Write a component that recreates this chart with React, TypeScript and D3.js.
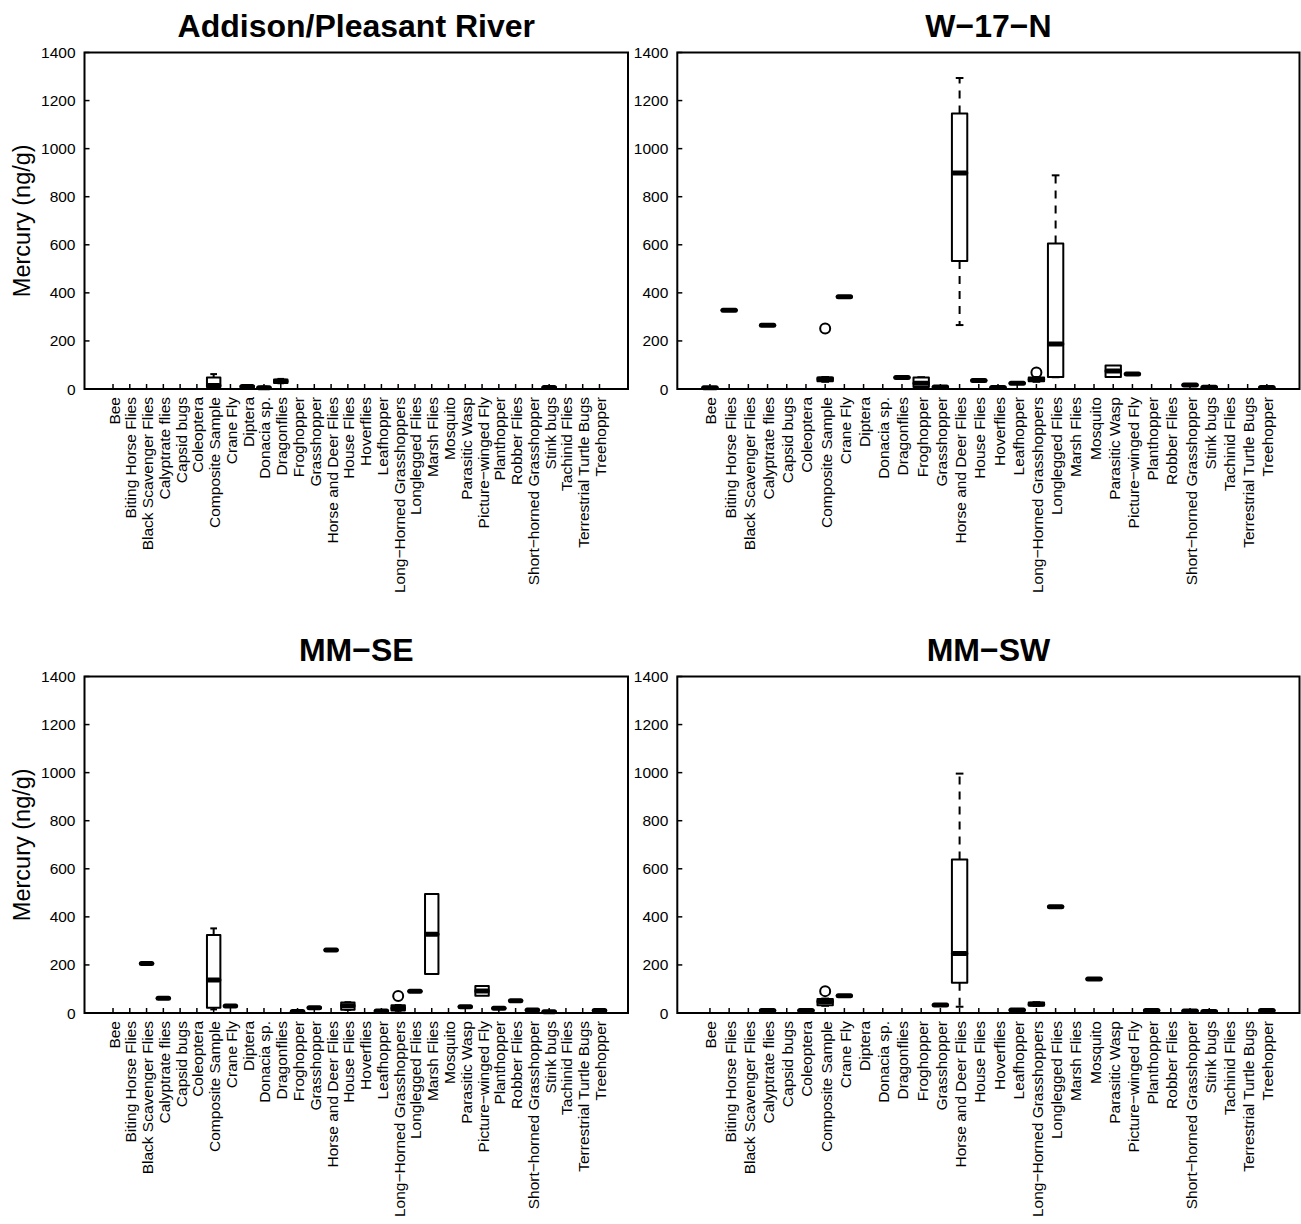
import React from "react";
import { scalePoint, scaleLinear } from "d3";

const categories = [
  "Bee", "Biting Horse Flies", "Black Scavenger Flies", "Calyptrate flies", "Capsid bugs",
  "Coleoptera", "Composite Sample", "Crane Fly", "Diptera", "Donacia sp.", "Dragonflies",
  "Froghopper", "Grasshopper", "Horse and Deer Flies", "House Flies", "Hoverflies",
  "Leafhopper", "Long−Horned Grasshoppers", "Longlegged Flies", "Marsh Flies", "Mosquito",
  "Parasitic Wasp", "Picture−winged Fly", "Planthopper", "Robber Flies",
  "Short−horned Grasshopper", "Stink bugs", "Tachinid Flies", "Terrestrial Turtle Bugs",
  "Treehopper",
];

const yTicks = [0, 200, 400, 600, 800, 1000, 1200, 1400];

type Stat = [string, number, number, number, number, number]; // name, lo, q1, med, q3, hi
type Out = [string, number];

// Addison/Pleasant River
const addisonStats: Stat[] = [
  ["Composite Sample", 5, 8, 15, 48, 62],
  ["Diptera", 6, 7, 10, 13, 14],
  ["Donacia sp.", 3, 4, 5, 6, 10],
  ["Dragonflies", 24, 25, 32, 40, 42],
  ["Stink bugs", 2, 4, 6, 8, 12],
];
const addisonOut: Out[] = [];

// W-17-N
const w17Stats: Stat[] = [
  ["Bee", 4, 4, 5, 6, 6],
  ["Biting Horse Flies", 328, 328, 328, 328, 328],
  ["Calyptrate flies", 265, 265, 265, 265, 265],
  ["Composite Sample", 30, 32, 42, 48, 50],
  ["Crane Fly", 384, 384, 384, 384, 384],
  ["Dragonflies", 48, 48, 48, 48, 48],
  ["Froghopper", 7, 8, 24, 48, 49],
  ["Grasshopper", 7, 7, 8, 9, 9],
  ["Horse and Deer Flies", 266, 533, 899, 1146, 1294],
  ["House Flies", 35, 35, 35, 35, 35],
  ["Hoverflies", 5, 5, 6, 7, 7],
  ["Leafhopper", 23, 23, 24, 25, 25],
  ["Long−Horned Grasshoppers", 30, 32, 40, 48, 50],
  ["Longlegged Flies", 49, 50, 187, 605, 889],
  ["Parasitic Wasp", 50, 50, 75, 98, 98],
  ["Picture−winged Fly", 62, 62, 62, 62, 62],
  ["Short−horned Grasshopper", 16, 16, 17, 18, 18],
  ["Stink bugs", 6, 6, 7, 8, 8],
  ["Treehopper", 5, 5, 6, 7, 7],
];
const w17Out: Out[] = [
  ["Composite Sample", 252],
  ["Long−Horned Grasshoppers", 69],
];

// MM-SE
const mmseStats: Stat[] = [
  ["Black Scavenger Flies", 206, 206, 206, 206, 206],
  ["Calyptrate flies", 61, 61, 61, 61, 61],
  ["Composite Sample", 15, 22, 137, 324, 352],
  ["Crane Fly", 29, 29, 29, 29, 29],
  ["Froghopper", 5, 5, 6, 7, 7],
  ["Grasshopper", 21, 21, 22, 23, 23],
  ["Horse and Deer Flies", 262, 262, 262, 262, 262],
  ["House Flies", 13, 14, 30, 44, 45],
  ["Leafhopper", 7, 7, 8, 9, 9],
  ["Long−Horned Grasshoppers", 9, 10, 20, 32, 33],
  ["Longlegged Flies", 91, 91, 91, 91, 91],
  ["Marsh Flies", 162, 162, 328, 495, 495],
  ["Parasitic Wasp", 26, 26, 26, 26, 26],
  ["Picture−winged Fly", 72, 72, 92, 112, 112],
  ["Planthopper", 20, 20, 20, 20, 20],
  ["Robber Flies", 51, 51, 51, 51, 51],
  ["Short−horned Grasshopper", 11, 11, 12, 13, 13],
  ["Stink bugs", 4, 4, 5, 6, 6],
  ["Treehopper", 9, 9, 10, 11, 11],
];
const mmseOut: Out[] = [["Long−Horned Grasshoppers", 71]];

// MM-SW
const mmswStats: Stat[] = [
  ["Calyptrate flies", 9, 9, 10, 11, 11],
  ["Coleoptera", 9, 9, 10, 11, 11],
  ["Composite Sample", 30, 32, 48, 58, 60],
  ["Crane Fly", 72, 72, 72, 72, 72],
  ["Grasshopper", 33, 33, 33, 33, 33],
  ["Horse and Deer Flies", 26, 126, 248, 639, 996],
  ["Leafhopper", 11, 11, 12, 13, 13],
  ["Long−Horned Grasshoppers", 30, 31, 36, 44, 45],
  ["Longlegged Flies", 442, 442, 442, 442, 442],
  ["Mosquito", 141, 141, 141, 141, 141],
  ["Planthopper", 9, 9, 10, 11, 11],
  ["Short−horned Grasshopper", 7, 7, 8, 9, 9],
  ["Stink bugs", 5, 5, 6, 7, 7],
  ["Treehopper", 9, 9, 10, 11, 11],
];
const mmswOut: Out[] = [["Composite Sample", 91]];

const FONT = "'Liberation Sans', Arial, Helvetica, sans-serif";

type PanelProps = {
  title: string;
  left: number;
  right: number;
  top: number;
  bottom: number;
  stats: Stat[];
  outs: Out[];
  ylab: boolean;
};

function Panel({ title, left, right, top, bottom, stats, outs, ylab }: PanelProps) {
  const x = scalePoint<string>().domain(categories).range([left, right]).padding(1.7);
  const y = scaleLinear().domain([0, 1400]).range([bottom, top]);
  const bw = x.step() * 0.8;
  const mid = (left + right) / 2;

  return (
    <g>
      <text x={mid} y={top - 16} textAnchor="middle" fontWeight="bold" fontSize={32} fontFamily={FONT}>
        {title}
      </text>
      {ylab && (
        <text
          transform={`translate(30,${(top + bottom) / 2}) rotate(-90)`}
          textAnchor="middle"
          fontSize={23.5}
          fontFamily={FONT}
        >
          Mercury (ng/g)
        </text>
      )}
      {/* y axis */}
      {yTicks.map((t) => (
        <g key={t}>
          <line x1={left} x2={left + 5} y1={y(t)} y2={y(t)} stroke="#000" strokeWidth={1.5} />
          <text x={left - 9} y={y(t)} textAnchor="end" dominantBaseline="central" fontSize={15.5} fontFamily={FONT}>
            {t}
          </text>
        </g>
      ))}
      {/* x axis */}
      {categories.map((c) => (
        <g key={c}>
          <line x1={x(c)} x2={x(c)} y1={bottom} y2={bottom - 5} stroke="#000" strokeWidth={1.5} />
          <text
            transform={`translate(${(x(c) ?? 0) + 1},${bottom + 8}) rotate(-90)`}
            textAnchor="end"
            dominantBaseline="central"
            fontSize={15.5}
            fontFamily={FONT}
          >
            {c}
          </text>
        </g>
      ))}
      {/* boxes */}
      {stats.map(([c, lo, q1, med, q3, hi]) => {
        const cx = x(c) ?? 0;
        return (
          <g key={c} stroke="#000" strokeWidth={2} fill="none">
            {hi > q3 && (
              <>
                <line x1={cx} x2={cx} y1={y(q3)} y2={y(hi)} strokeDasharray="8,7" />
                <line x1={cx - bw / 4} x2={cx + bw / 4} y1={y(hi)} y2={y(hi)} />
              </>
            )}
            {lo < q1 && (
              <>
                <line x1={cx} x2={cx} y1={y(q1)} y2={y(lo)} strokeDasharray="8,7" />
                <line x1={cx - bw / 4} x2={cx + bw / 4} y1={y(lo)} y2={y(lo)} />
              </>
            )}
            <rect
              x={cx - bw / 2}
              y={y(q3)}
              width={bw}
              height={Math.max(0.01, y(q1) - y(q3))}
              fill="#fff"
              strokeLinejoin="round"
            />
            <line
              x1={cx - bw / 2 + 1.5}
              x2={cx + bw / 2 - 1.5}
              y1={y(med)}
              y2={y(med)}
              strokeWidth={5}
              strokeLinecap="round"
            />
          </g>
        );
      })}
      {outs.map(([c, v], i) => (
        <circle key={i} cx={x(c)} cy={y(v)} r={5} fill="none" stroke="#000" strokeWidth={2} />
      ))}
      <rect x={left} y={top} width={right - left} height={bottom - top} fill="none" stroke="#000" strokeWidth={2} />
    </g>
  );
}

export default function App() {
  return (
    <div style={{ position: "absolute", left: 0, top: 0, background: "#fff" }}>
      <svg width={1301} height={1224} style={{ display: "block" }}>
        <rect width={1301} height={1224} fill="#fff" />
        <Panel title="Addison/Pleasant River" left={84.5} right={628} top={52.5} bottom={389}
          stats={addisonStats} outs={addisonOut} ylab />
        <Panel title="W−17−N" left={677.3} right={1299.5} top={52.5} bottom={389}
          stats={w17Stats} outs={w17Out} ylab={false} />
        <Panel title="MM−SE" left={84.5} right={628} top={676.5} bottom={1013}
          stats={mmseStats} outs={mmseOut} ylab />
        <Panel title="MM−SW" left={677.3} right={1299.5} top={676.5} bottom={1013}
          stats={mmswStats} outs={mmswOut} ylab={false} />
      </svg>
    </div>
  );
}
